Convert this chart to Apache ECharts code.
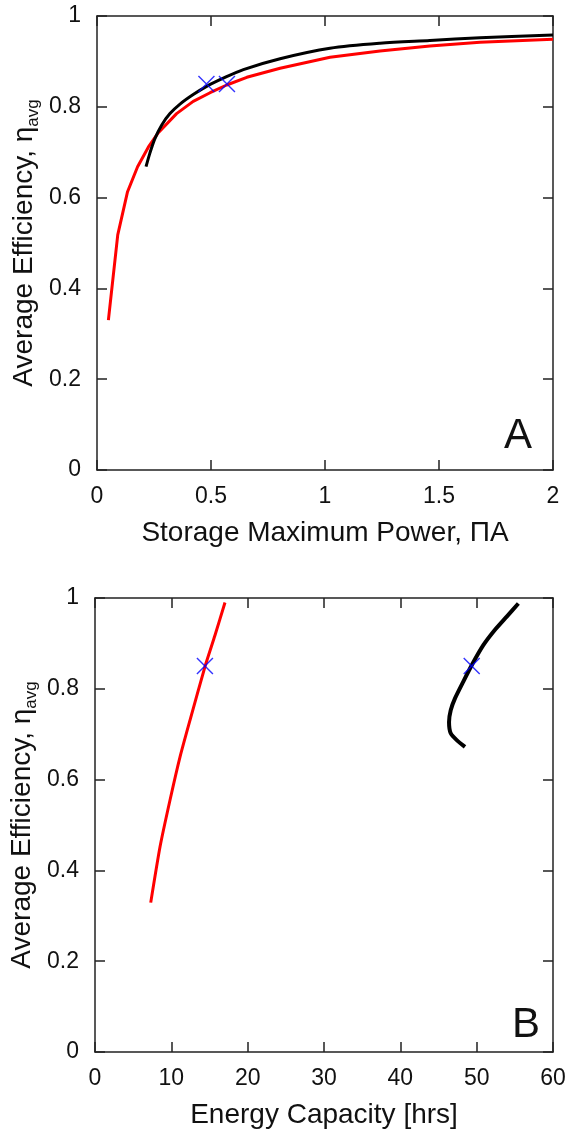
<!DOCTYPE html>
<html><head><meta charset="utf-8">
<script src="https://cdn.jsdelivr.net/npm/echarts@6/dist/echarts.min.js"></script>
<style>html,body{margin:0;padding:0;background:#fff}#c{width:571px;height:1134px}</style>
</head><body><div id="c"></div>
<script>
// Panel A: efficiency vs storage maximum power
const powerRedX = [0.050, 0.091, 0.134, 0.178, 0.225, 0.269, 0.349, 0.422, 0.496, 0.569, 0.657, 0.803, 1.022, 1.241, 1.46, 1.68, 2.0];
const powerRedY = [0.330, 0.518, 0.613, 0.668, 0.711, 0.743, 0.785, 0.812, 0.831, 0.848, 0.865, 0.885, 0.909, 0.923, 0.934, 0.942, 0.949];
const powerBlackX = [0.215, 0.232, 0.254, 0.284, 0.320, 0.364, 0.422, 0.481, 0.554, 0.642, 0.803, 1.022, 1.241, 1.46, 1.68, 2.0];
const powerBlackY = [0.668, 0.698, 0.730, 0.760, 0.785, 0.806, 0.827, 0.845, 0.863, 0.882, 0.906, 0.929, 0.940, 0.946, 0.952, 0.958];
const powerMarkX = [0.48, 0.57];
const powerMarkY = [0.85, 0.85];
// Panel B: efficiency vs energy capacity
const energyRedX = [7.30, 8.52, 9.83, 11.14, 12.45, 14.41, 15.72, 17.03];
const energyRedY = [0.329, 0.452, 0.555, 0.650, 0.731, 0.849, 0.918, 0.990];
const energyBlackX = [48.47, 47.39, 46.60, 46.38, 46.60, 47.16, 48.25, 49.35, 50.87, 52.40, 53.94, 55.46];
const energyBlackY = [0.672, 0.687, 0.702, 0.727, 0.753, 0.779, 0.816, 0.852, 0.896, 0.930, 0.959, 0.988];
const energyMarkX = [14.4, 49.35];
const energyMarkY = [0.85, 0.85];
// Axis text
const yTitle = 'Average Efficiency, η';
const ySub = 'avg';
const xTitleA = 'Storage Maximum Power, ΠA';
const xTitleB = 'Energy Capacity [hrs]';
const panelLabels = ['A', 'B'];

const zip = (xs, ys) => xs.map((x, i) => [x, ys[i]]);
const FONT = 'Liberation Sans, Arial, sans-serif';
const mkLine = () => ({ show: true, onZero: false, lineStyle: { color: '#222', width: 1.5 } });
const mkTick = () => ({ show: true, inside: true, length: 10, lineStyle: { color: '#222', width: 1.5 } });
const mkLbl = (m) => ({ show: true, inside: false, margin: m, fontSize: 23, color: '#111', fontFamily: FONT });

function xAx(grid, min, max, interval, name) {
  return [
    { type: 'value', gridIndex: grid, min, max, interval, position: 'bottom',
      axisLine: mkLine(), axisTick: mkTick(), splitLine: { show: false },
      axisLabel: mkLbl(15),
      name, nameLocation: 'middle', nameGap: 49, nameMoveOverlap: false,
      nameTextStyle: { fontSize: 28, color: '#111', fontFamily: FONT } },
    { type: 'value', gridIndex: grid, min, max, interval, position: 'top',
      axisLine: mkLine(), axisTick: mkTick(), splitLine: { show: false }, axisLabel: { show: false } }
  ];
}
function yAx(grid) {
  return [
    { type: 'value', gridIndex: grid, min: 0, max: 1, interval: 0.2, position: 'left',
      axisLine: mkLine(), axisTick: mkTick(), splitLine: { show: false },
      axisLabel: mkLbl(16),
      name: '{a|' + yTitle + '}{s|' + ySub + '}', nameLocation: 'middle', nameGap: 55, nameRotate: 90,
      nameMoveOverlap: false,
      nameTextStyle: { fontFamily: FONT, color: '#111',
        rich: { a: { fontSize: 28, lineHeight: 36, verticalAlign: 'middle', fontFamily: FONT, color: '#111' },
                s: { fontSize: 17, lineHeight: 12, verticalAlign: 'bottom', fontFamily: FONT, color: '#111' } } } },
    { type: 'value', gridIndex: grid, min: 0, max: 1, interval: 0.2, position: 'right',
      axisLine: mkLine(), axisTick: mkTick(), splitLine: { show: false }, axisLabel: { show: false } }
  ];
}
const xMark = 'path://M0,0L10,10M10,0L0,10';
function lineS(xi, yi, data, color, w, smooth) {
  return { type: 'line', xAxisIndex: xi, yAxisIndex: yi, data, showSymbol: false, symbol: 'none',
    smooth, lineStyle: { color, width: w, join: 'round', cap: 'butt' }, silent: true, animation: false };
}
function markS(xi, yi, data) {
  return { type: 'scatter', xAxisIndex: xi, yAxisIndex: yi, data, symbol: xMark, symbolSize: 16,
    itemStyle: { color: 'rgba(0,0,0,0)', borderColor: '#0000ff', borderWidth: 1.4 }, z: 5, animation: false };
}

const chart = echarts.init(document.getElementById('c'), null, { renderer: 'canvas' });
chart.setOption({
  backgroundColor: '#fff',
  animation: false,
  grid: [
    { left: 97, top: 16, width: 456, height: 454, containLabel: false, outerBoundsMode: 'none' },
    { left: 95, top: 598, width: 458, height: 454, containLabel: false, outerBoundsMode: 'none' }
  ],
  xAxis: [...xAx(0, 0, 2, 0.5, xTitleA), ...xAx(1, 0, 60, 10, xTitleB)],
  yAxis: [...yAx(0), ...yAx(1)],
  series: [
    lineS(0, 0, zip(powerRedX, powerRedY), '#ff0000', 3, false),
    lineS(0, 0, zip(powerBlackX, powerBlackY), '#000000', 3, 0.3),
    markS(0, 0, zip(powerMarkX, powerMarkY)),
    lineS(2, 2, zip(energyRedX, energyRedY), '#ff0000', 3, 0.2),
    lineS(2, 2, zip(energyBlackX, energyBlackY), '#000000', 4, 0.2),
    markS(2, 2, zip(energyMarkX, energyMarkY))
  ],
  graphic: [
    { type: 'text', left: 504, top: 415, style: { text: panelLabels[0], fontSize: 42, fill: '#111', fontFamily: FONT } },
    { type: 'text', left: 512, top: 1004, style: { text: panelLabels[1], fontSize: 42, fill: '#111', fontFamily: FONT } }
  ]
});
</script></body></html>
